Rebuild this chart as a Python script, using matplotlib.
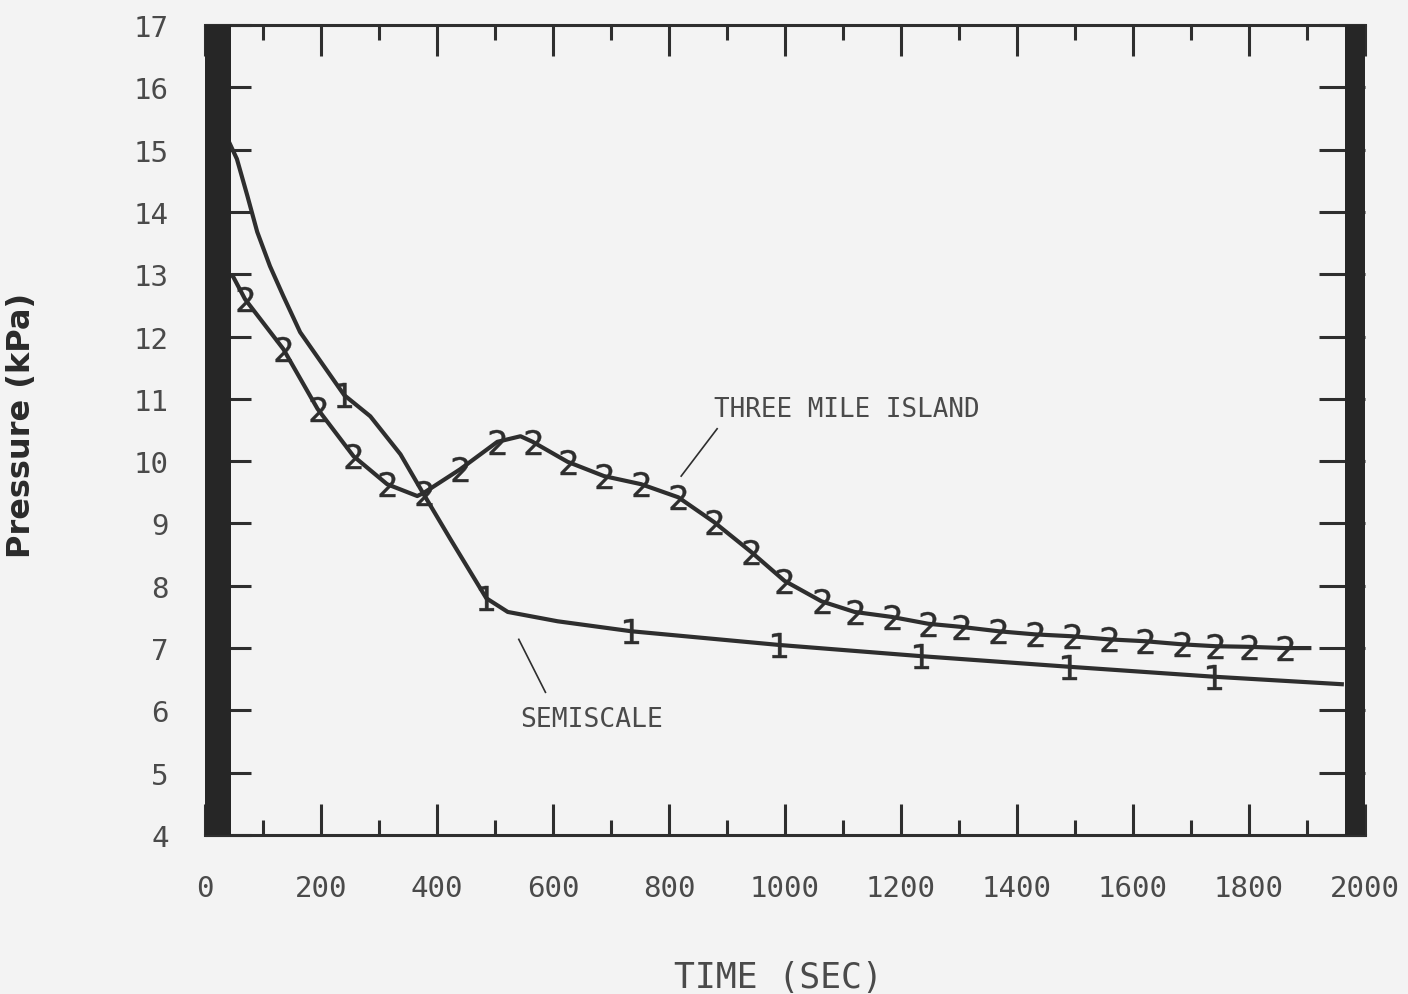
import matplotlib.pyplot as plt
from matplotlib.ticker import MultipleLocator

# Semiscale pressure history (time in s, pressure in kPa)
semi_time = [40, 55, 73, 90, 112, 135, 164, 240, 285, 337, 377, 423, 485,
             522, 608, 735, 990, 1235, 1490, 1740, 1960]
semi_press = [15.15, 14.85, 14.26, 13.68, 13.13, 12.65, 12.07, 11.06, 10.72,
              10.11, 9.47, 8.75, 7.80, 7.58, 7.43, 7.27, 7.05, 6.87, 6.70,
              6.54, 6.42]
semi_marks = [7, 12, 15, 16, 17, 18, 19]

# Three Mile Island pressure history
tmi_time = [0, 48, 69, 135, 194, 256, 314, 366, 377, 440, 504, 544, 565, 625,
            688, 752, 816, 878, 942, 999, 1063, 1120, 1184, 1247, 1304, 1368,
            1431, 1494, 1558, 1621, 1685, 1742, 1800, 1862, 1904]
tmi_press = [13.1, 12.97, 12.60, 11.80, 10.84, 10.08, 9.63, 9.44, 9.49, 9.87,
             10.31, 10.40, 10.31, 9.99, 9.76, 9.63, 9.42, 9.02, 8.54, 8.08,
             7.75, 7.58, 7.50, 7.39, 7.34, 7.27, 7.22, 7.19, 7.14, 7.11, 7.06,
             7.03, 7.02, 7.00, 7.00]
tmi_marks = [2, 3, 4, 5, 6, 8, 9, 10, 12, 13, 14, 15, 16, 17, 18, 19, 20,
             21, 22, 23, 24, 25, 26, 27, 28, 29, 30, 31, 32, 33]

x_ticks = list(range(0, 2001, 200))
y_ticks = list(range(4, 18))

ink = '#2e2e2e'
text_col = '#4a4a4a'
bg = '#f3f3f3'

fig = plt.figure(figsize=(14.08, 9.95), dpi=100, facecolor=bg)
ax = fig.add_axes([205 / 1408, 1 - 836 / 995, (1365 - 205) / 1408, (836 - 26) / 995])
ax.set_facecolor(bg)

ax.plot(semi_time, semi_press, color=ink, lw=3.0, zorder=2,
        marker='$1$', markevery=semi_marks, ms=18, mew=0.3,
        mfc=ink, mec=ink)
ax.plot(tmi_time, tmi_press, color=ink, lw=3.0, zorder=2,
        marker='$2$', markevery=tmi_marks, ms=18, mew=0.3,
        mfc=ink, mec=ink)

# heavy vertical frame bars at both ends
ax.axvspan(0, 45, color='#262626', zorder=3, lw=0)
ax.axvspan(1966, 2000, color='#262626', zorder=3, lw=0)

ax.set_xlim(0, 2000)
ax.set_ylim(4, 17)

for s in ['top', 'bottom']:
    ax.spines[s].set_linewidth(2.2)
    ax.spines[s].set_color(ink)
for s in ['left', 'right']:
    ax.spines[s].set_visible(False)

ax.set_xticks(x_ticks)
ax.xaxis.set_minor_locator(MultipleLocator(100))
ax.set_yticks(y_ticks)

mono = 'DejaVu Sans Mono'
ax.set_xticklabels([str(v) for v in x_ticks],
                   fontfamily=mono, fontsize=21, color=text_col)
ax.set_yticklabels([str(v) for v in y_ticks],
                   fontfamily=mono, fontsize=21, color=text_col)

ax.tick_params(axis='x', which='major', direction='in', length=22, width=2.2,
               color=ink, top=True, bottom=True, pad=28)
ax.tick_params(axis='x', which='minor', direction='in', length=11, width=2.2,
               color=ink, top=True, bottom=True)
ax.tick_params(axis='y', which='major', direction='in', length=33, width=2.2,
               color=ink, left=True, right=True, pad=26)

# curve labels with leader lines
ax.text(878, 10.84, 'THREE MILE ISLAND', fontfamily=mono, fontsize=18.6,
        color=text_col, va='center', ha='left')
ax.plot([883, 821], [10.52, 9.76], color=ink, lw=1.2)
ax.text(544, 5.86, 'SEMISCALE', fontfamily=mono, fontsize=19,
        color=text_col, va='center', ha='left')
ax.plot([587, 541], [6.29, 7.14], color=ink, lw=1.2)

fig.text(778 / 1408, 1 - 978 / 995, 'TIME (SEC)', fontfamily=mono,
         fontsize=25, color=text_col, ha='center', va='center')
fig.text(22 / 1408, 1 - 425 / 995, 'Pressure (kPa)', fontsize=23,
         fontweight='heavy', color='#2a2a2a', rotation=90,
         ha='center', va='center')

fig.savefig('out.png', dpi=100, facecolor=bg)
